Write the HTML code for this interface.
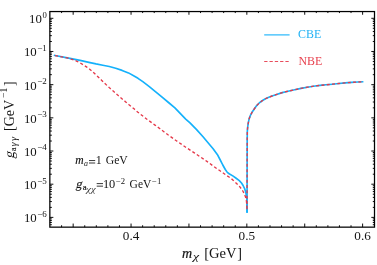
<!DOCTYPE html>
<html><head><meta charset="utf-8"><title>plot</title>
<style>
html,body{margin:0;padding:0;background:#fff;}
body{width:377px;height:265px;overflow:hidden;}
svg{display:block;will-change:transform;}
text{font-family:"Liberation Serif",serif;fill:#141414;}
.tl{font-size:12.8px;}
.sup{font-size:8.7px;}
.xl{font-size:13.2px;}
.i{font-style:italic;}
</style></head><body>
<svg width="377" height="265" viewBox="0 0 377 265">
<rect width="377" height="265" fill="#fff"/>
<path d="M53.80,55.30 L67.30,57.90 L80.10,60.40 L90.00,62.60 L96.00,63.90 L102.80,65.20 L109.30,66.50 L115.70,68.20 L122.10,70.40 L128.50,72.90 L134.50,76.30 L138.00,78.30 L142.80,81.70 L149.30,86.60 L155.70,91.80 L162.10,97.20 L168.50,102.50 L174.90,107.90 L185.70,119.10 L190.00,122.90 L196.60,129.60 L202.80,136.50 L209.30,144.20 L213.10,148.70 L217.30,154.40 L220.00,159.50 L222.80,165.00 L225.30,169.50 L227.30,172.40 L229.50,174.00 L232.80,175.90 L235.80,178.00 L239.30,180.60 L241.50,183.00 L243.10,185.50 L244.60,188.60 L245.70,192.00 L246.40,195.50 L246.80,199.00 L247.00,205.00 L247.05,212.80" fill="none" stroke="#14b1fb" stroke-width="1.65" stroke-linejoin="round"/>
<path d="M247.05,212.80 L247.10,170.00 L247.20,140.00 L247.30,131.60 L247.60,127.90 L248.20,123.40 L249.10,118.90 L250.40,115.40 L252.40,111.70 L254.60,108.50 L256.70,105.60 L259.00,103.20 L261.80,101.00 L265.00,99.00 L268.20,97.50 L272.00,96.00 L275.90,94.70 L282.20,92.60 L288.00,91.20 L294.60,89.80 L301.00,88.40 L307.30,87.20 L313.50,86.20 L319.90,85.40 L326.00,84.80 L332.50,84.20 L339.00,83.50 L345.10,82.90 L351.50,82.40 L357.80,82.00 L363.40,81.70" fill="none" stroke="#14b1fb" stroke-width="1.65" stroke-linejoin="round"/>
<path d="M53.80,55.30 L67.30,57.90 L73.70,59.90 L77.00,61.30 L80.10,62.90 L83.30,64.80 L86.50,66.90 L89.70,69.30 L92.90,72.00 L96.40,75.30 L101.30,79.90 L105.50,84.10 L109.20,87.60 L113.50,91.30 L117.40,94.80 L125.70,101.90 L129.30,105.00 L134.00,108.80 L137.60,112.00 L146.60,119.00 L155.00,125.10 L160.00,128.80 L163.90,131.70 L168.30,135.00 L176.70,141.00 L185.70,147.20 L194.70,153.10 L203.60,159.10 L206.90,161.40 L217.80,169.30 L220.00,170.80 L226.40,175.30 L229.40,177.30 L232.80,179.90 L236.00,182.90 L239.30,186.20 L241.40,188.80 L243.10,191.50 L244.60,194.50 L245.70,197.50 L246.40,201.00 L246.80,205.00 L247.00,210.00 L247.10,170.00 L247.20,140.00 L247.30,131.60 L247.60,127.90 L248.20,123.40 L249.10,118.90 L250.40,115.40 L252.40,111.70 L254.60,108.50 L256.70,105.60 L259.00,103.20 L261.80,101.00 L265.00,99.00 L268.20,97.50 L272.00,96.00 L275.90,94.70 L282.20,92.60 L288.00,91.20 L294.60,89.80 L301.00,88.40 L307.30,87.20 L313.50,86.20 L319.90,85.40 L326.00,84.80 L332.50,84.20 L339.00,83.50 L345.10,82.90 L351.50,82.40 L357.80,82.00 L363.40,81.70" fill="none" stroke="#e5394a" stroke-width="1.35" stroke-dasharray="3 2.3" stroke-dashoffset="-1.3" stroke-linejoin="round"/>
<path d="M49.85,18.30h3.5M374.50,18.30h-3.2M49.85,41.49h2.0M374.50,41.49h-1.7M49.85,35.65h2.0M374.50,35.65h-1.7M49.85,31.50h2.0M374.50,31.50h-1.7M49.85,28.29h2.0M374.50,28.29h-1.7M49.85,25.66h2.0M374.50,25.66h-1.7M49.85,23.44h2.0M374.50,23.44h-1.7M49.85,21.52h2.0M374.50,21.52h-1.7M49.85,19.82h2.0M374.50,19.82h-1.7M49.85,51.48h3.5M374.50,51.48h-3.2M49.85,74.67h2.0M374.50,74.67h-1.7M49.85,68.83h2.0M374.50,68.83h-1.7M49.85,64.68h2.0M374.50,64.68h-1.7M49.85,61.47h2.0M374.50,61.47h-1.7M49.85,58.84h2.0M374.50,58.84h-1.7M49.85,56.62h2.0M374.50,56.62h-1.7M49.85,54.70h2.0M374.50,54.70h-1.7M49.85,53.00h2.0M374.50,53.00h-1.7M49.85,84.66h3.5M374.50,84.66h-3.2M49.85,107.85h2.0M374.50,107.85h-1.7M49.85,102.01h2.0M374.50,102.01h-1.7M49.85,97.86h2.0M374.50,97.86h-1.7M49.85,94.65h2.0M374.50,94.65h-1.7M49.85,92.02h2.0M374.50,92.02h-1.7M49.85,89.80h2.0M374.50,89.80h-1.7M49.85,87.88h2.0M374.50,87.88h-1.7M49.85,86.18h2.0M374.50,86.18h-1.7M49.85,117.84h3.5M374.50,117.84h-3.2M49.85,141.03h2.0M374.50,141.03h-1.7M49.85,135.19h2.0M374.50,135.19h-1.7M49.85,131.04h2.0M374.50,131.04h-1.7M49.85,127.83h2.0M374.50,127.83h-1.7M49.85,125.20h2.0M374.50,125.20h-1.7M49.85,122.98h2.0M374.50,122.98h-1.7M49.85,121.06h2.0M374.50,121.06h-1.7M49.85,119.36h2.0M374.50,119.36h-1.7M49.85,151.02h3.5M374.50,151.02h-3.2M49.85,174.21h2.0M374.50,174.21h-1.7M49.85,168.37h2.0M374.50,168.37h-1.7M49.85,164.22h2.0M374.50,164.22h-1.7M49.85,161.01h2.0M374.50,161.01h-1.7M49.85,158.38h2.0M374.50,158.38h-1.7M49.85,156.16h2.0M374.50,156.16h-1.7M49.85,154.24h2.0M374.50,154.24h-1.7M49.85,152.54h2.0M374.50,152.54h-1.7M49.85,184.20h3.5M374.50,184.20h-3.2M49.85,207.39h2.0M374.50,207.39h-1.7M49.85,201.55h2.0M374.50,201.55h-1.7M49.85,197.40h2.0M374.50,197.40h-1.7M49.85,194.19h2.0M374.50,194.19h-1.7M49.85,191.56h2.0M374.50,191.56h-1.7M49.85,189.34h2.0M374.50,189.34h-1.7M49.85,187.42h2.0M374.50,187.42h-1.7M49.85,185.72h2.0M374.50,185.72h-1.7M49.85,217.38h3.5M374.50,217.38h-3.2M49.85,224.74h2.0M374.50,224.74h-1.7M49.85,222.52h2.0M374.50,222.52h-1.7M49.85,220.60h2.0M374.50,220.60h-1.7M49.85,218.90h2.0M374.50,218.90h-1.7M61.58,227.15v-1.9M61.58,11.55v1.5M73.16,227.15v-3.6M73.16,11.55v3.2M84.74,227.15v-1.9M84.74,11.55v1.5M96.32,227.15v-1.9M96.32,11.55v1.5M107.89,227.15v-1.9M107.89,11.55v1.5M119.47,227.15v-1.9M119.47,11.55v1.5M131.05,227.15v-3.6M131.05,11.55v3.2M142.63,227.15v-1.9M142.63,11.55v1.5M154.21,227.15v-1.9M154.21,11.55v1.5M165.78,227.15v-1.9M165.78,11.55v1.5M177.36,227.15v-1.9M177.36,11.55v1.5M188.94,227.15v-3.6M188.94,11.55v3.2M200.52,227.15v-1.9M200.52,11.55v1.5M212.10,227.15v-1.9M212.10,11.55v1.5M223.67,227.15v-1.9M223.67,11.55v1.5M235.25,227.15v-1.9M235.25,11.55v1.5M246.83,227.15v-3.6M246.83,11.55v3.2M258.41,227.15v-1.9M258.41,11.55v1.5M269.99,227.15v-1.9M269.99,11.55v1.5M281.56,227.15v-1.9M281.56,11.55v1.5M293.14,227.15v-1.9M293.14,11.55v1.5M304.72,227.15v-3.6M304.72,11.55v3.2M316.30,227.15v-1.9M316.30,11.55v1.5M327.88,227.15v-1.9M327.88,11.55v1.5M339.45,227.15v-1.9M339.45,11.55v1.5M351.03,227.15v-1.9M351.03,11.55v1.5M362.61,227.15v-3.6M362.61,11.55v3.2" stroke="#000" stroke-width="0.95" fill="none"/>
<rect x="49.85" y="11.55" width="324.65" height="215.60" fill="none" stroke="#000" stroke-width="1.25"/>
<text x="41.9" y="23.30" text-anchor="end" class="tl">10</text><text x="42.5" y="17.70" class="sup">0</text>
<text x="36.7" y="56.48" text-anchor="end" class="tl">10</text><text x="37.3" y="50.88" class="sup" style="font-size:9px">−1</text>
<text x="36.7" y="89.66" text-anchor="end" class="tl">10</text><text x="37.3" y="84.06" class="sup" style="font-size:9px">−2</text>
<text x="36.7" y="122.84" text-anchor="end" class="tl">10</text><text x="37.3" y="117.24" class="sup" style="font-size:9px">−3</text>
<text x="36.7" y="156.02" text-anchor="end" class="tl">10</text><text x="37.3" y="150.42" class="sup" style="font-size:9px">−4</text>
<text x="36.7" y="189.20" text-anchor="end" class="tl">10</text><text x="37.3" y="183.60" class="sup" style="font-size:9px">−5</text>
<text x="36.7" y="222.38" text-anchor="end" class="tl">10</text><text x="37.3" y="216.78" class="sup" style="font-size:9px">−6</text>
<text x="131.05" y="239.6" text-anchor="middle" class="xl">0.4</text>
<text x="246.83" y="239.6" text-anchor="middle" class="xl">0.5</text>
<text x="362.61" y="239.6" text-anchor="middle" class="xl">0.6</text>

<!-- legend -->
<path d="M264.2,34.9H289.6" stroke="#14b1fb" stroke-width="1.1"/>
<text x="298.1" y="38" style="font-size:11.9px;fill:#22b2f4">CBE</text>
<path d="M264.2,61.5H289.6" stroke="#e5394a" stroke-width="0.9" stroke-dasharray="3.3 2"/>
<text x="298.4" y="64.5" style="font-size:11.9px;fill:#e8424f">NBE</text>
<!-- annotations -->
<text x="75.3" y="164.4" class="i" style="font-size:11.6px;stroke:#141414;stroke-width:0.15">m</text>
<text x="84" y="166.1" class="i" style="font-size:7.9px">a</text>
<path d="M89,160.55h6.2M89,163.0h6.2M96.7,183.6h6.3M96.7,186.15h6.3" stroke="#141414" stroke-width="0.85" fill="none"/>
<text x="95.7" y="164.4" style="font-size:12px">1</text>
<text x="105.7" y="164.4" style="font-size:11.7px">GeV</text>
<text transform="translate(75.6,188.1) skewX(-13)" style="font-size:12.4px;stroke:#141414;stroke-width:0.15">g</text>
<text x="82.8" y="190.2" style="font-size:8.8px;stroke:#141414;stroke-width:0.2">a</text>
<text x="86.2" y="191.5" class="i" style="font-size:8.6px;fill:#3a3a3a" textLength="9.4" lengthAdjust="spacingAndGlyphs">χχ</text>
<text x="102.9" y="187.6" style="font-size:12.4px">10</text>
<text x="115.9" y="183.5" style="font-size:8.7px">−2</text>
<text x="129.6" y="187.6" style="font-size:11.5px">GeV</text>
<text x="152" y="183.5" style="font-size:8.7px">−1</text>
<!-- x label -->
<text x="182.1" y="258" class="i" style="font-size:14px;stroke:#141414;stroke-width:0.2">m</text>
<text transform="translate(192.9,259.6) scale(1.22,1)" class="i" style="font-size:11.3px">χ</text>
<text x="204.2" y="258" style="font-size:14.2px" textLength="32.4" lengthAdjust="spacingAndGlyphs">[GeV</text>
<text x="237.2" y="258" style="font-size:14.2px">]</text>
<!-- y label -->
<g transform="translate(13.9,158.5) rotate(-90)">
<text transform="translate(-0.2,0) skewX(-13)" style="font-size:13.8px">g</text>
<text x="7.2" y="2.4" style="font-size:8.6px;stroke:#141414;stroke-width:0.15">a</text>
<text x="11.9" y="2.7" class="i" style="font-size:10.5px;fill:#2a2a2a">γ</text>
<text x="17.6" y="2.7" class="i" style="font-size:10.5px;fill:#2a2a2a">γ</text>
<text x="27.6" y="0" style="font-size:14px">[GeV</text>
<text x="60.6" y="-7.1" style="font-size:9.5px">−1</text>
<text x="72.6" y="0" style="font-size:14px">]</text>
</g>
</svg>
</body></html>
